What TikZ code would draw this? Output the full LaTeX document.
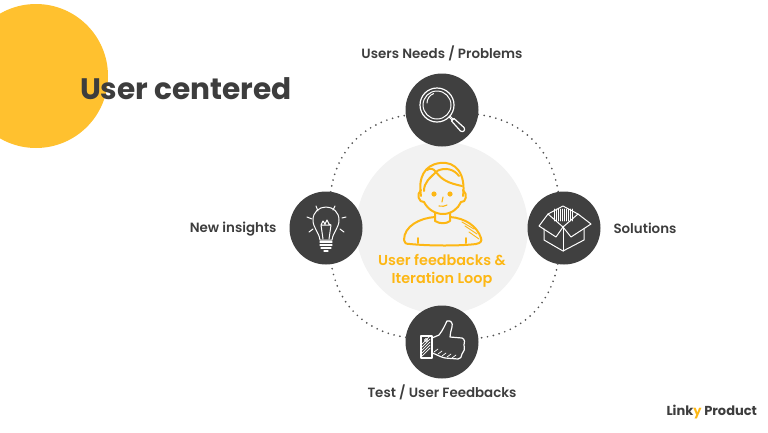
\documentclass[tikz,border=0pt]{standalone}
\usepackage{fontspec}
\setmainfont{Poppins}[BoldFont={Poppins SemiBold}]
\newfontfamily\titlefont{Poppins}[BoldFont={Poppins Bold}]
\definecolor{linkyyellow}{HTML}{FFC12F}
\definecolor{linkyorange}{HTML}{FDB714}
\definecolor{linkydark}{HTML}{404040}
\definecolor{linkytext}{HTML}{3D3D3D}
\definecolor{linkygray}{HTML}{F2F2F2}
\usetikzlibrary{%
    positioning,
}
\tikzset{%
    base/.style = {
        inner sep=0pt,
        outer sep=0pt,
    },
    hub/.style = {
        base,
        circle,
        minimum size=73pt,
        fill=linkydark,
    },
    caption/.style = {
        base,
        text=linkytext,
        font=\fontsize{13.4}{16}\selectfont\bfseries,
    },
    centertext/.style = {
        base,
        align=center,
        text=linkyorange,
        font=\fontsize{14.4}{18.5}\selectfont\bfseries,
    },
    ring/.style = {
        draw=linkydark!90,
        line width=1.9pt,
        line cap=round,
        dash pattern=on 0pt off 6pt,
    },
    icon/.style = {
        draw=white,
        line width=1pt,
        line join=round,
        line cap=round,
    },
    person/.style = {
        draw=linkyorange,
        line width=2pt,
        line join=round,
        line cap=round,
    },
}

\begin{document}
\begin{tikzpicture}[x=1pt,y=-1pt]
    \useasboundingbox (0,0) rectangle (768,432);
    \fill [linkyyellow] (36,76) circle (72);
    \fill [linkygray] (442,228) circle (86);
    \node [base, anchor=west, text=linkytext, font=\titlefont\fontsize{29.6}{34}\selectfont\bfseries] (title) at (80,88.5) {User centered};

    \node [hub] (needs) at (442,110) {};
    \node [hub] (solutions) at (564,228) {};
    \node [hub] (feedback) at (442,342) {};
    \node [hub] (insights) at (326,228) {};

    \draw [ring] (needs) to [bend left=37] (solutions);
    \draw [ring] (solutions) to [bend left=37] (feedback);
    \draw [ring] (feedback) to [bend left=37] (insights);
    \draw [ring] (insights) to [bend left=37] (needs);

    \node [caption, above=56.5pt of needs.center, anchor=center] (needslabel) {Users Needs / Problems};
    \node [caption, right=13pt of solutions, yshift=-0.7pt] (solutionslabel) {Solutions};
    \node [caption, below=50pt of feedback.center, anchor=center] (feedbacklabel) {Test / User Feedbacks};
    \node [caption, left=13pt of insights, yshift=-0.7pt] (insightslabel) {New insights};
    \node [centertext] (loop) at (442,271) {User feedbacks \&\\Iteration Loop};
    \node [base, anchor=east, text=linkytext, font=\titlefont\fontsize{13}{15}\selectfont\bfseries] (brand) at (757,412) {Link{\color{linkyorange}y} Product};

    % person
    \begin{scope}[person]
        \draw (421,196) .. controls (418,178) and (424,165) .. (440,163) .. controls (456,161) and (466,174) .. (463,196);
        \draw (421,190) .. controls (416,194) and (419,203) .. (424,202) .. controls (428,210) and (436,214) .. (443,214) .. controls (451,214) and (458,209) .. (461,202) .. controls (466,203) and (468,194) .. (463,190);
        \draw (424,191) .. controls (424,182) and (430,178) .. (436,172) .. controls (442,180) and (448,183) .. (462,186);
        \draw (436,172) .. controls (433,168) and (430,168) .. (427,170);
        \draw (437,171) .. controls (445,167) and (454,169) .. (459,176);
        \draw (435,213) -- (435,221) .. controls (440,224) and (446,224) .. (450,221) -- (450,213);
        \draw (435,217) .. controls (420,218) and (404,226) .. (404,240) .. controls (404,243) and (406,244) .. (410,244) .. controls (430,246) and (460,246) .. (476,244) .. controls (481,243) and (482,241) .. (481,238) .. controls (477,226) and (465,218) .. (450,217);
        \draw [line width=0.9pt] (462,222) -- (474,229) (465,226) -- (477,234) (469,232) -- (479,239);
        \draw (418,238) -- (418,243) (466,238) -- (466,243);
        \fill [linkyorange, draw=none] (434,194) circle (2.6) (450,194) circle (2.6);
        \draw [line width=1.1pt] (443,197) -- (442,202) (439,206) .. controls (442,207) and (445,206) .. (447,205);
    \end{scope}

    % magnifier
    \begin{scope}[shift={(needs)}, icon]
        \draw [line width=1.2pt] (-5,-5) circle (17);
        \draw (-5,-5) circle (14);
        \draw (-15,-7) arc (180:250:10);
        \draw (7,7) -- (10,10) (8,6) -- (11,9);
        \draw [line width=1.2pt] (9.5,11) -- (12,8.5) -- (22,17.5) .. controls (24,20) and (21,23) .. (18.5,21) -- cycle;
    \end{scope}

    % box
    \begin{scope}[shift={(solutions)}, icon]
        \draw (-1,-22) -- (-16,-14) -- (-1,-1) -- (14,-14) -- cycle;
        \draw (-16,-14) -- (-25,-2) -- (-8,9) -- (-1,-1) -- (7,9) -- (27,-4) -- (14,-14);
        \draw (-20,1) -- (-20,12) -- (-1,23) -- (20,12) -- (20,1);
        \draw (-1,-1) -- (-1,23);
        \foreach \hatchx in {-10,-8,-6,-4,-2,0,2,4,6,8} {
            \draw [line width=0.7pt] (\hatchx,-19) -- (\hatchx,-7);
        }
    \end{scope}

    % bulb
    \begin{scope}[shift={(insights)}, icon]
        \draw (-6,12) .. controls (-7,4) and (-13,0) .. (-13,-8) .. controls (-13,-16) and (-7,-21) .. (0,-21) .. controls (7,-21) and (13,-16) .. (13,-8) .. controls (13,0) and (7,4) .. (6,12) -- cycle;
        \draw (-5,-3) -- (-3,11) (5,-3) -- (3,11) (-5,-3) -- (-3,-7) -- (-1,-4) -- (1,-8) -- (3,-4) -- (5,-3) -- cycle;
        \draw [line width=1.3pt] (-6,14) -- (6,14) (-6,17) -- (6,17) (-5,20) -- (5,20) (-2,23) -- (2,23);
        \draw (-10,-22) -- (-8,-17) (9,-22) -- (7,-18) (16,-10) -- (20,-11) (-19,-11) -- (-14,-9) (-17,4) -- (-13,1) (14,1) -- (18,4);
    \end{scope}

    % thumb
    \begin{scope}[shift={(feedback)}, icon]
        \draw [line width=1.2pt] (-21,-6) rectangle (-10,16);
        \draw [line width=1.2pt] (-10,-4) -- (-3,-7) .. controls (1,-12) and (3,-17) .. (5,-21) .. controls (9,-22) and (11,-19) .. (10,-15) .. controls (9,-11) and (8,-8) .. (8,-5) -- (20,-4) .. controls (23,-3) and (23,1) .. (22,3) .. controls (23,7) and (22,10) .. (20,12) .. controls (20,15) and (18,17) .. (16,17) -- (3,16) .. controls (-2,15) and (-6,12) .. (-10,11);
        \foreach \hatchy in {2,5,8,11,14} {
            \draw [line width=0.7pt] (-20,\hatchy) -- (-12,\hatchy-8);
        }
        \draw [line width=0.7pt] (-8,10) -- (-4,7) (-4,12) -- (0,9) (0,14) -- (4,11) (5,15) -- (9,12) (10,16) -- (14,13);
        \draw (-16,-2) circle (1.5);
    \end{scope}
\end{tikzpicture}
\end{document}
